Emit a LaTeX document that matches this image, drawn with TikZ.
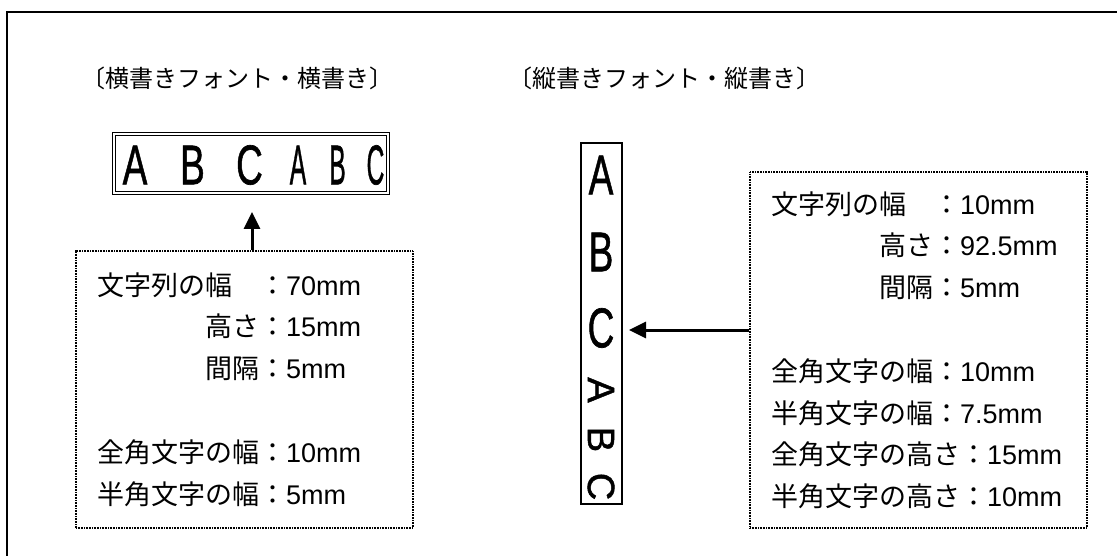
\documentclass[tikz,border=0pt]{standalone}
\usepackage{fontspec}
\setmainfont{Noto Sans CJK JP}
\newfontfamily\latinfont{Liberation Sans}
\newfontfamily\ltrfont[FakeBold=1.2]{Liberation Sans}
\usetikzlibrary{positioning,arrows.meta}

\newcommand{\val}[1]{{\latinfont #1}}
\newcommand{\zenkaku}[1]{\scalebox{0.66}[1]{#1}}
\newcommand{\hankaku}[1]{\scalebox{0.44}[1]{#1}}

\tikzset{
  frame/.style={line width=2pt},
  title/.style={anchor=west, inner sep=0pt, font=\fontsize{24}{24}\selectfont},
  strbox/.style={draw, inner sep=0pt, line width=1pt},
  ltr/.style={inner sep=0pt, font=\ltrfont\fontsize{56}{56}\selectfont},
  rotltr/.style={inner sep=0pt, rotate=-90, font=\ltrfont\fontsize{38}{38}\selectfont},
  infobox/.style={draw, dash pattern=on 1pt off 0.6pt, line width=1.3pt, text width=295pt,
    inner xsep=21pt, inner ysep=0pt, align=left, font=\fontsize{27}{41.5}\selectfont},
  arr/.style={line width=3pt, -{Triangle[length=17pt,width=16pt]}}
}

\begin{document}
\begin{tikzpicture}[x=1pt,y=-1pt]
  \useasboundingbox (0,0) rectangle (1117,556);
  \draw[frame] (7,600) |- (1160,12);

  \node[title] (ttl1) at (81,78) {〔横書きフォント・横書き〕};
  \node[title] (ttl2) at (508,78) {〔縦書きフォント・縦書き〕};

  % horizontal string
  \node[strbox, double, double distance=1.6pt, line width=0.8pt,
        minimum width=274pt, minimum height=59pt] (hbox) at (251,163.5) {};
  \node[ltr] (h1) at (135,165) {\zenkaku{A}};
  \node[ltr] (h2) at (192.5,165) {\zenkaku{B}};
  \node[ltr] (h3) at (249.5,165) {\zenkaku{C}};
  \node[ltr] (h4) at (298,165) {\hankaku{A}};
  \node[ltr] (h5) at (337.5,165) {\hankaku{B}};
  \node[ltr] (h6) at (375.5,165) {\hankaku{C}};

  % vertical string
  \node[strbox, line width=1.2pt, minimum width=41pt, minimum height=361pt] (vbox) at (601.5,323.5) {};
  \node[ltr] (v1) at (601,175) {\zenkaku{A}};
  \node[ltr] (v2) at (601,252) {\zenkaku{B}};
  \node[ltr] (v3) at (601,328) {\zenkaku{C}};
  \node[rotltr] (v4) at (601,390) {A};
  \node[rotltr] (v5) at (601,439.5) {B};
  \node[rotltr] (v6) at (601,486.5) {C};

  \node[infobox, minimum height=277pt] (lbox) at (244.5,389.5) {%
    文字列の幅　：\val{70mm}\\
    　　　　高さ：\val{15mm}\\
    　　　　間隔：\val{5mm}\\[43pt]
    全角文字の幅：\val{10mm}\\
    半角文字の幅：\val{5mm}};

  \node[infobox, minimum height=356pt] (rbox) at (918.5,350) {%
    文字列の幅　：\val{10mm}\\
    　　　　高さ：\val{92.5mm}\\
    　　　　間隔：\val{5mm}\\[43pt]
    全角文字の幅：\val{10mm}\\
    半角文字の幅：\val{7.5mm}\\
    全角文字の高さ：\val{15mm}\\
    半角文字の高さ：\val{10mm}};

  \coordinate (uptip) at (252,212);
  \coordinate (lefttip) at (629,330);
  \draw[arr] (lbox.north -| uptip) -- (uptip);
  \draw[arr] (rbox.west |- lefttip) -- (lefttip);
\end{tikzpicture}
\end{document}
